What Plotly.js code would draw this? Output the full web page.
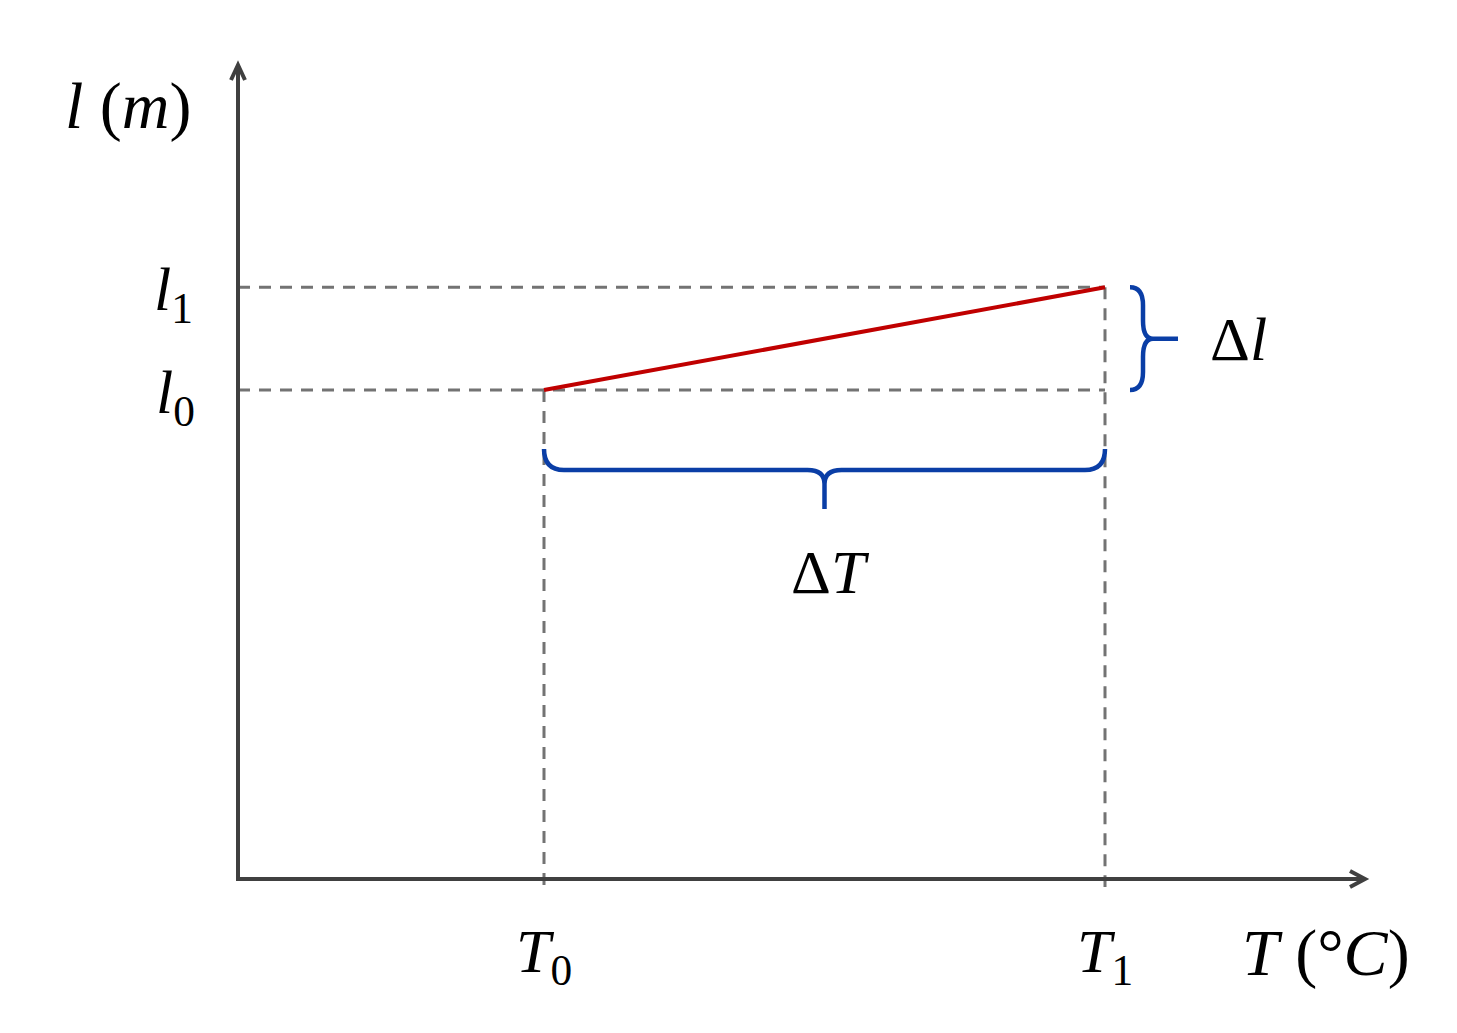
<!DOCTYPE html>
<html><head><meta charset="utf-8">
<script src="https://cdn.plot.ly/plotly-3.0.1.min.js"></script>
<style>html,body{margin:0;padding:0;background:#fff}#chart{width:1457px;height:1033px}</style>
</head><body><div id="chart"></div>
<script>
// ---- data ----
const temperature = [30, 85];        // T0, T1 (°C)
const lengthVals = [5.0, 6.05];      // l0, l1 (m)
const tempLabels = ['<i>T</i><sub>0</sub>', '<i>T</i><sub>1</sub>'];
const lengthLabels = ['<i>l</i><sub>0</sub>', '<i>l</i><sub>1</sub>'];
const xTitle = '<i>T</i> (°<i>C</i>)';
const yTitle = '<i>l</i> (<i>m</i>)';
const deltaLabels = ['Δ<i>T</i>', 'Δ<i>l</i>'];

// ---- layout helpers ----
const W = 1457, H = 1033, OX = 238, OY = 879;
const sx = 10.2, sy = 97.8;               // px per data unit
const dx = p => p / sx, dy = p => p / sy;
const xRange = [-OX / sx, (W - OX) / sx];
const yRange = [-(H - OY) / sy, OY / sy];
const xEnd = dx(1127), yEnd = dy(814);

const [T0, T1] = temperature;
const [l0, l1] = lengthVals;
const axisColor = '#404040', dashColor = '#737373', braceColor = '#0a3ea6', redColor = '#c00000';
const FONT = 'Liberation Serif, Times New Roman, serif';
const below = -dy(8);
const dashLine = {color: dashColor, width: 3, dash: '12px,9px'};

const traces = [
  {x: [0, T1], y: [l1, l1], mode: 'lines', line: dashLine, hoverinfo: 'skip'},
  {x: [0, T1], y: [l0, l0], mode: 'lines', line: dashLine, hoverinfo: 'skip'},
  {x: [T0, T0], y: [l0, below], mode: 'lines', line: dashLine, hoverinfo: 'skip'},
  {x: [T1, T1], y: [l1, below], mode: 'lines', line: dashLine, hoverinfo: 'skip'},
  {x: [0, 0, xEnd], y: [yEnd, 0, 0], mode: 'lines', line: {color: axisColor, width: 4}, hoverinfo: 'skip'},
  {x: temperature, y: lengthVals, mode: 'lines', line: {color: redColor, width: 4}, hoverinfo: 'skip'}
];

// arrowheads (open chevrons)
const xArrow = `M${xEnd - dx(15)},${dy(8)} L${xEnd},0 L${xEnd - dx(15)},${-dy(8)}`;
const yArrow = `M${-dx(7)},${yEnd - dy(15)} L0,${yEnd} L${dx(7)},${yEnd - dy(15)}`;

// horizontal brace (ΔT)
const xMid = (T0 + T1) / 2, r = dx(20), rc = dx(17);
const yE = l0 - dy(59), yB = l0 - dy(80), yC = l0 - dy(94), yS = l0 - dy(119);
const hBrace = `M${T0},${yE} Q${T0},${yB} ${T0 + r},${yB} L${xMid - rc},${yB} Q${xMid},${yB} ${xMid},${yC} L${xMid},${yS} ` +
               `M${T1},${yE} Q${T1},${yB} ${T1 - r},${yB} L${xMid + rc},${yB} Q${xMid},${yB} ${xMid},${yC}`;
// vertical brace (Δl)
const yMid = (l0 + l1) / 2, ry = dy(18);
const xe = T1 + dx(25), xb = T1 + dx(38), xc = T1 + dx(48), xs = T1 + dx(73);
const vBrace = `M${xe},${l1} Q${xb},${l1} ${xb},${l1 - ry} L${xb},${yMid + ry} Q${xb},${yMid} ${xc},${yMid} L${xs},${yMid} ` +
               `M${xe},${l0} Q${xb},${l0} ${xb},${l0 + ry} L${xb},${yMid - ry} Q${xb},${yMid} ${xc},${yMid}`;

const txt = (text, x, y, size) => ({text, x, y, xref: 'x', yref: 'y', showarrow: false,
  xanchor: 'center', yanchor: 'middle', font: {family: FONT, size, color: '#000'}});

const annotations = [
  txt(yTitle, dx(128 - OX), dy(OY - 106), 66),
  txt(xTitle, dx(1326 - OX), dy(OY - 953), 66),
  txt(lengthLabels[1], dx(173 - OX), l1 - dy(6), 62),
  txt(lengthLabels[0], dx(175 - OX), l0 - dy(6), 62),
  txt(tempLabels[0], T0, dy(OY - 955), 62),
  txt(tempLabels[1], T1, dy(OY - 955), 62),
  txt(deltaLabels[0], xMid + dx(6), l0 - dy(182), 62),
  txt(deltaLabels[1], T1 + dx(133), yMid, 62)
];

const layout = {
  width: W, height: H, margin: {l: 0, r: 0, t: 0, b: 0},
  paper_bgcolor: '#fff', plot_bgcolor: '#fff', showlegend: false,
  xaxis: {range: xRange, visible: false, fixedrange: true},
  yaxis: {range: yRange, visible: false, fixedrange: true},
  shapes: [
    {type: 'path', path: xArrow, xref: 'x', yref: 'y', line: {color: axisColor, width: 4}},
    {type: 'path', path: yArrow, xref: 'x', yref: 'y', line: {color: axisColor, width: 4}},
    {type: 'path', path: hBrace, xref: 'x', yref: 'y', line: {color: braceColor, width: 4.5}},
    {type: 'path', path: vBrace, xref: 'x', yref: 'y', line: {color: braceColor, width: 4.5}}
  ],
  annotations
};
Plotly.newPlot('chart', traces, layout, {staticPlot: true, displayModeBar: false});
</script></body></html>
